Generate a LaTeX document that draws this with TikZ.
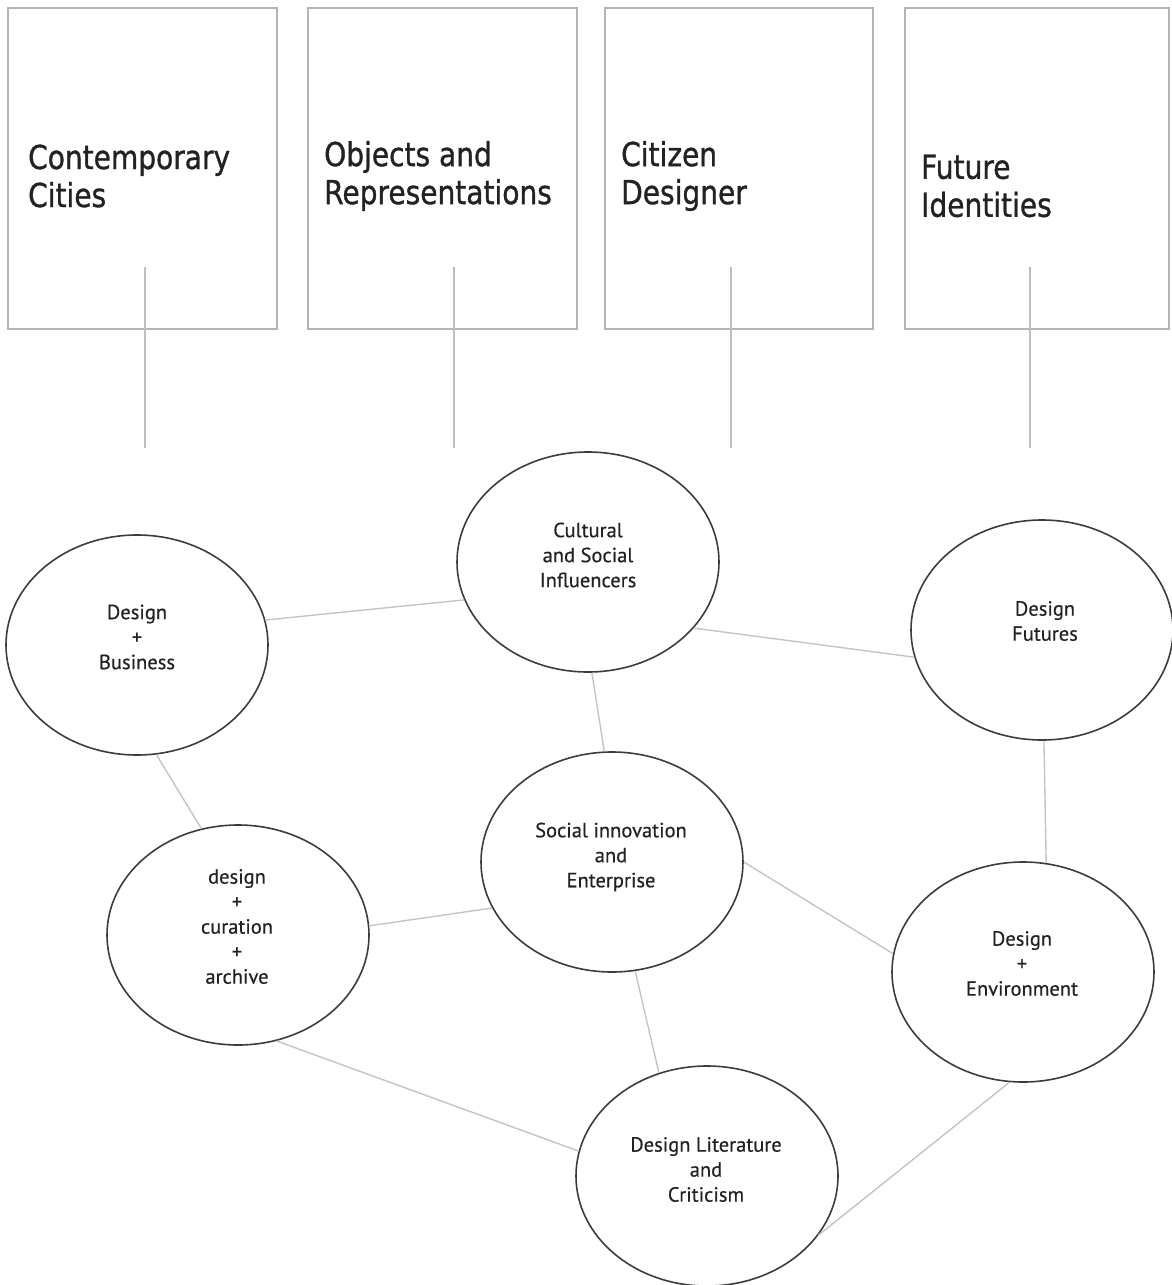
\documentclass[tikz,border=0pt]{standalone}
\usepackage{fontspec}
\usetikzlibrary{shapes.geometric}
\newfontfamily\titlefont[FakeStretch=0.85,FakeBold=1]{DejaVu Sans}
\newfontfamily\bubblefont[FakeBold=0.5]{PT Sans}
\definecolor{boxline}{HTML}{B4B4B4}
\definecolor{stemline}{HTML}{BEBEBE}
\definecolor{ringline}{HTML}{3C3C3C}
\definecolor{linkline}{HTML}{C4C4C4}
\definecolor{inktext}{HTML}{222222}
\tikzset{
  panel/.style={draw=boxline, line width=2pt, minimum width=269pt, minimum height=321pt, inner sep=0pt},
  paneltitle/.style={anchor=west, align=left, inner sep=0pt, text=inktext, font=\titlefont\fontsize{33}{38}\selectfont},
  ring/.style={ellipse, draw=ringline, line width=1.6pt, minimum width=262pt, minimum height=220pt, inner sep=0pt},
  ringtext/.style={align=center, inner sep=0pt, text=inktext, font=\bubblefont\fontsize{20.5}{25}\selectfont},
  link/.style={draw=linkline, line width=1.4pt},
  stem/.style={draw=stemline, line width=1.3pt},
}
\begin{document}
\begin{tikzpicture}[x=1pt,y=-1pt]
\useasboundingbox (0,0) rectangle (1171,1285);

% theme panels
\node[panel] (p1) at (142.5,168.5) {};
\node[panel] (p2) at (442.5,168.5) {};
\node[panel, minimum width=268pt] (p3) at (739,168.5) {};
\node[panel, minimum width=264pt] (p4) at (1037,168.5) {};

\node[paneltitle] (t1) at (28,176) {Contemporary\\Cities};
\node[paneltitle] (t2) at (324,176) {Objects and\\Representations};
\node[paneltitle] (t3) at (621,176) {Citizen\\Designer};
\node[paneltitle] (t4) at (921,186) {Future\\Identities};

% stems hanging from the panels
\coordinate (s1a) at (145,267); \coordinate (s1b) at (145,448);
\coordinate (s2a) at (454,267); \coordinate (s2b) at (454,448);
\coordinate (s3a) at (731,267); \coordinate (s3b) at (731,448);
\coordinate (s4a) at (1030,267); \coordinate (s4b) at (1030,448);
\draw[stem] (s1a) -- (s1b);
\draw[stem] (s2a) -- (s2b);
\draw[stem] (s3a) -- (s3b);
\draw[stem] (s4a) -- (s4b);

% subject rings
\node[ring] (B) at (137,645) {};
\node[ring] (C) at (588,562) {};
\node[ring] (F) at (1042,630) {};
\node[ring] (S) at (612,862) {};
\node[ring] (A) at (238,935) {};
\node[ring] (E) at (1023,972) {};
\node[ring] (L) at (707,1176) {};

\node[ringtext] (Bt) at (137,637) {Design\\+\\Business};
\node[ringtext] (Ct) at (588,555) {Cultural\\and Social\\Influencers};
\node[ringtext] (Ft) at (1045,621) {Design\\Futures};
\node[ringtext] (St) at (611,857) {Social innovation\\and\\Enterprise};
\node[ringtext] (At) at (237,926.5) {design\\+\\curation\\+\\archive};
\node[ringtext] (Et) at (1022,963.5) {Design\\+\\Environment};
\node[ringtext] (Lt) at (706,1169.5) {Design Literature\\and\\Criticism};

% links between rings
\draw[link] (B.11.6) -- (C.197);
\draw[link] (C.328) -- (F.192);
\draw[link] (C.272) -- (S.94.6);
\draw[link] (B.280.8) -- (A.109);
\draw[link] (A.4.8) -- (S.201.6);
\draw[link] (S.0) -- (E.172.6);
\draw[link] (F.271.6) -- (E.78.5);
\draw[link] (A.290.8) -- (L.169.5);
\draw[link] (S.282.3) -- (L.115.3);
\draw[link] (E.263.4) -- (L.332.8);
\end{tikzpicture}
\end{document}
